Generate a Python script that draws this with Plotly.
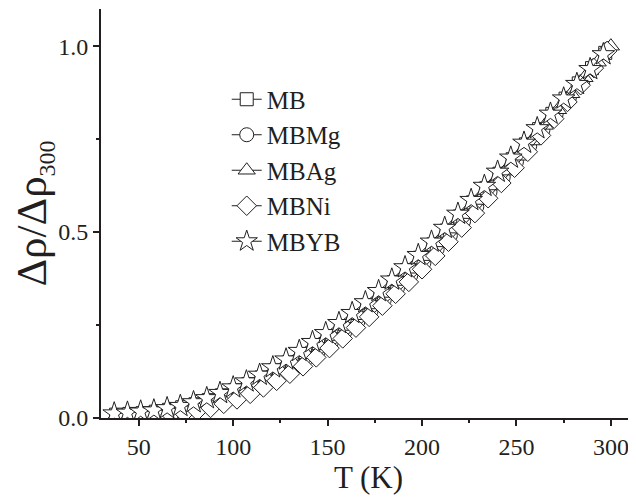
import plotly.graph_objects as go

# Temperature grids (K) and normalized resistivity values
T_MB = [38, 45, 52, 59, 66, 73, 80, 87, 94, 101, 108, 115, 122, 129, 136, 143, 150, 157, 164, 171,
        178, 185, 192, 199, 206, 213, 220, 227, 234, 241, 248, 255, 262, 269, 276, 283, 290, 297]
V_MB = [0.009, 0.011, 0.013, 0.017, 0.022, 0.029, 0.037, 0.048, 0.061, 0.075, 0.091, 0.109, 0.128,
        0.149, 0.172, 0.196, 0.220, 0.247, 0.274, 0.303, 0.333, 0.365, 0.398, 0.431, 0.467, 0.504,
        0.542, 0.580, 0.618, 0.657, 0.696, 0.736, 0.777, 0.818, 0.859, 0.900, 0.941, 0.982]

T_MBMg = [40, 47, 54, 61, 68, 75, 82, 89, 96, 103, 110, 117, 124, 131, 138, 145, 152, 159, 166, 173,
          180, 187, 194, 201, 208, 215, 222, 229, 236, 243, 250, 257, 264, 271, 278, 285, 292, 299]
V_MBMg = [0.001, 0.003, 0.006, 0.010, 0.014, 0.019, 0.026, 0.036, 0.048, 0.062, 0.076, 0.094, 0.113,
          0.133, 0.155, 0.179, 0.204, 0.230, 0.259, 0.288, 0.318, 0.350, 0.383, 0.417, 0.454, 0.491,
          0.529, 0.568, 0.608, 0.648, 0.689, 0.731, 0.774, 0.817, 0.861, 0.905, 0.949, 0.994]

T_MBAg = [41, 48, 55, 62, 69, 76, 83, 90, 97, 104, 111, 118, 125, 132, 139, 146, 153, 160, 167, 174,
          181, 188, 195, 202, 209, 216, 223, 230, 237, 244, 251, 258, 265, 272, 279, 286, 293, 300]
V_MBAg = [0.005, 0.007, 0.010, 0.014, 0.019, 0.026, 0.035, 0.045, 0.058, 0.073, 0.089, 0.107, 0.127,
          0.147, 0.170, 0.194, 0.219, 0.246, 0.275, 0.304, 0.335, 0.367, 0.400, 0.434, 0.471, 0.508,
          0.547, 0.585, 0.624, 0.664, 0.704, 0.745, 0.787, 0.829, 0.872, 0.915, 0.957, 1.000]

T_MBNi = [39, 46, 53, 60, 67, 74, 81, 88, 95, 102, 109, 116, 123, 130, 137, 144, 151, 158, 165, 172,
          179, 186, 193, 200, 207, 214, 221, 228, 235, 242, 249, 256, 263, 270, 277, 284, 291, 298]
V_MBNi = [0.000, 0.000, 0.002, 0.005, 0.009, 0.013, 0.019, 0.027, 0.038, 0.050, 0.065, 0.082, 0.100,
          0.119, 0.139, 0.163, 0.188, 0.214, 0.243, 0.272, 0.302, 0.334, 0.366, 0.400, 0.436, 0.474,
          0.512, 0.551, 0.591, 0.632, 0.673, 0.716, 0.760, 0.805, 0.850, 0.895, 0.941, 0.987]

T_MBYB = [37, 44, 51, 58, 65, 72, 79, 86, 93, 100, 107, 114, 121, 128, 135, 142, 149, 156, 163, 170,
          177, 184, 191, 198, 205, 212, 219, 226, 233, 240, 247, 254, 261, 268, 275, 282, 289, 296]
V_MBYB = [0.012, 0.014, 0.017, 0.020, 0.026, 0.032, 0.042, 0.053, 0.067, 0.082, 0.098, 0.116, 0.136,
          0.157, 0.180, 0.204, 0.228, 0.255, 0.282, 0.311, 0.341, 0.372, 0.405, 0.438, 0.474, 0.511,
          0.549, 0.586, 0.624, 0.662, 0.700, 0.740, 0.779, 0.818, 0.859, 0.898, 0.938, 0.978]

series_names = ["MB", "MBMg", "MBAg", "MBNi", "MBYB"]
X_TICKS = [50, 100, 150, 200, 250, 300]
Y_TICKS = [0.0, 0.5, 1.0]
Y_TICK_TEXT = ["0.0", "0.5", "1.0"]

INK = "#231f20"
FONT = "'Times New Roman', 'Liberation Serif', Times, serif"

data = [
    (series_names[0], T_MB, V_MB, "square", 13),
    (series_names[1], T_MBMg, V_MBMg, "circle", 14),
    (series_names[2], T_MBAg, V_MBAg, "triangle-up", 15),
    (series_names[3], T_MBNi, V_MBNi, "diamond", 15),
    (series_names[4], T_MBYB, V_MBYB, "star", 17),
]

fig = go.Figure()
for name, xs, ys, sym, sz in data:
    fig.add_trace(go.Scatter(
        x=xs, y=ys, name=name, mode="lines+markers",
        line=dict(color=INK, width=1),
        marker=dict(symbol=sym, size=sz, color="white",
                    line=dict(color=INK, width=1)),
    ))

axis_common = dict(showgrid=False, zeroline=False, linecolor=INK, linewidth=2,
                   tickcolor=INK, tickwidth=1.5)

# The page body adds an 8 px margin, so the figure is sized to fill the rest of the window.
fig.update_layout(
    width=628, height=490,
    margin=dict(l=93, r=0, t=1, b=80),
    paper_bgcolor="white", plot_bgcolor="white",
    font=dict(family=FONT, color=INK, size=24),
    showlegend=True,
    legend=dict(x=0.235, y=0.835, xanchor="left", yanchor="top",
                bgcolor="rgba(0,0,0,0)", font=dict(family=FONT, size=25, color=INK),
                tracegroupgap=0),
    xaxis=dict(range=[30, 313.3], tickvals=X_TICKS, ticks="outside", ticklen=6,
               showline=True,
               minor=dict(dtick=25, tick0=0, ticks="outside", ticklen=3, tickcolor=INK, tickwidth=1.5),
               tickfont=dict(size=24, family=FONT, color=INK),
               title=dict(text="T (K)", font=dict(size=31, family=FONT, color=INK), standoff=6),
               **axis_common),
    xaxis2=dict(range=[30, 313.3], overlaying="x", side="top", anchor="y", tickvals=X_TICKS,
                ticks="inside", ticklen=6, showticklabels=False, showline=True,
                minor=dict(dtick=25, tick0=0, ticks="inside", ticklen=3, tickcolor=INK, tickwidth=1.5),
                **axis_common),
    yaxis=dict(range=[0, 1.1], tickvals=Y_TICKS, ticktext=Y_TICK_TEXT, ticks="outside", ticklen=6,
               showline=True,
               minor=dict(tickvals=[0.25, 0.75], ticks="outside", ticklen=3, tickcolor=INK, tickwidth=1.5),
               tickfont=dict(size=24, family=FONT, color=INK),
               title=dict(text="Δρ/Δρ<sub><span style='font-size:24px'>300</span></sub>",
                          font=dict(size=43, family=FONT, color=INK), standoff=8),
               **axis_common),
    yaxis2=dict(range=[0, 1.1], overlaying="y", side="right", anchor="x", tickvals=Y_TICKS,
                ticks="inside", ticklen=6, showticklabels=False, showline=False,
                minor=dict(tickvals=[0.25, 0.75], ticks="inside", ticklen=3, tickcolor=INK, tickwidth=1.5),
                **axis_common),
)

fig.write_html("out.html")
